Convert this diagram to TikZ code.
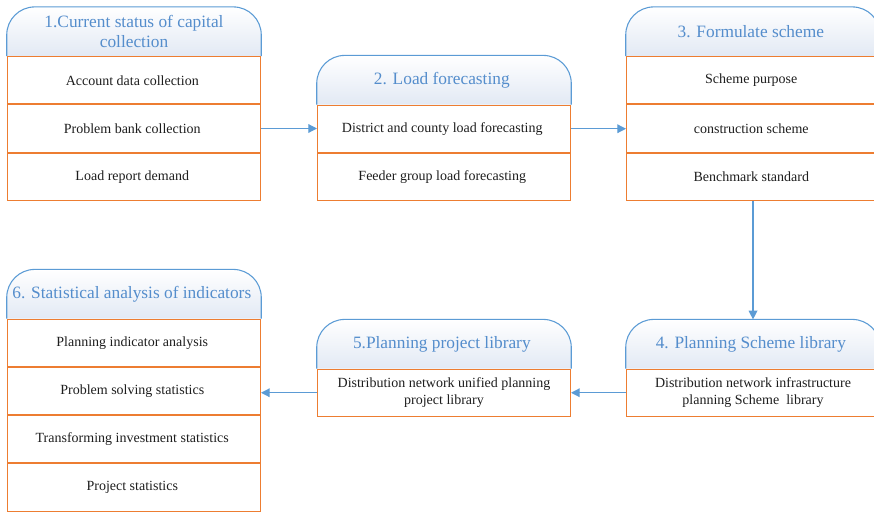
\documentclass[tikz,border=0pt]{standalone}
\usepackage{fontspec}
\setmainfont{Liberation Serif}
\usetikzlibrary{positioning,arrows.meta,backgrounds}
\definecolor{hdblue}{RGB}{91,155,213}
\definecolor{hdtext}{RGB}{84,141,204}
\definecolor{hdshade}{RGB}{226,233,244}
\definecolor{rowline}{RGB}{237,125,49}
\definecolor{rowtext}{RGB}{30,30,30}

\begin{document}
\begin{tikzpicture}[x = 0.75pt, y = -0.75pt,
    headbox/.style = { align = center, minimum width = 190.5pt, minimum height = 36.5pt, inner sep = 0pt,
                       text = hdtext, font = \fontsize{13}{15}\selectfont },
    rowbox/.style = { below = 0pt of #1, draw = rowline, line width = 0.8pt, fill = white, align = center,
                      minimum width = 189.7pt, minimum height = 35.4pt, inner sep = 0pt,
                      text = rowtext, font = \fontsize{10.5}{12.8}\selectfont },
    headline/.style = { draw = hdblue, line width = 0.8pt, rounded corners = 21pt, top color = white, bottom color = hdshade },
    flow/.style = { draw = hdblue, line width = 0.9pt, -{Triangle[length = 6.5pt, width = 6.5pt]} }]

    \clip (0,0) rectangle (874,512);

    % 1
    \node [headbox] (h1) at (134,31.5) { 1.Current status of capital \\ collection };
    \node [rowbox = h1] (a11) { Account data collection };
    \node [rowbox = a11] (a12) { Problem bank collection };
    \node [rowbox = a12] (a13) { Load report demand };

    % 2
    \node [headbox] (h2) at (444,80) { 2. Load forecasting };
    \node [rowbox = h2] (a21) { District and county load forecasting };
    \node [rowbox = a21] (a22) { Feeder group load forecasting };

    % 3
    \node [headbox] (h3) at (753,31.5) { 3. Formulate scheme };
    \node [rowbox = h3] (a31) { Scheme purpose };
    \node [rowbox = a31] (a32) { construction scheme };
    \node [rowbox = a32] (a33) { Benchmark standard };

    % 4
    \node [headbox] (h4) at (753,344) { 4. Planning Scheme library };
    \node [rowbox = h4] (a41) { Distribution network infrastructure \\ planning Scheme\ \ library };

    % 5
    \node [headbox] (h5) at (444,344) { 5.Planning project library };
    \node [rowbox = h5] (a51) { Distribution network unified planning \\ project library };

    % 6
    \node [headbox] (h6) at (134,294) { 6. Statistical analysis of indicators };
    \node [rowbox = h6] (a61) { Planning indicator analysis };
    \node [rowbox = a61] (a62) { Problem solving statistics };
    \node [rowbox = a62] (a63) { Transforming investment statistics };
    \node [rowbox = a63] (a64) { Project statistics };

    \begin{scope}[on background layer]
      \foreach \h in {h1,h2,h3,h4,h5,h6}
        \path [headline] (\h.south west) -- (\h.north west) -- (\h.north east) -- (\h.south east);
    \end{scope}

    \draw [flow] (a12.east) -- (a12.east -| a21.west);
    \draw [flow] (a21.east) -- (a21.east -| a32.west);
    \draw [flow] (a33.south) -- (h4.north);
    \draw [flow] (a41.west) -- (a51.east);
    \draw [flow] (a51.west) -- (a51.west -| a62.east);

\end{tikzpicture}
\end{document}
